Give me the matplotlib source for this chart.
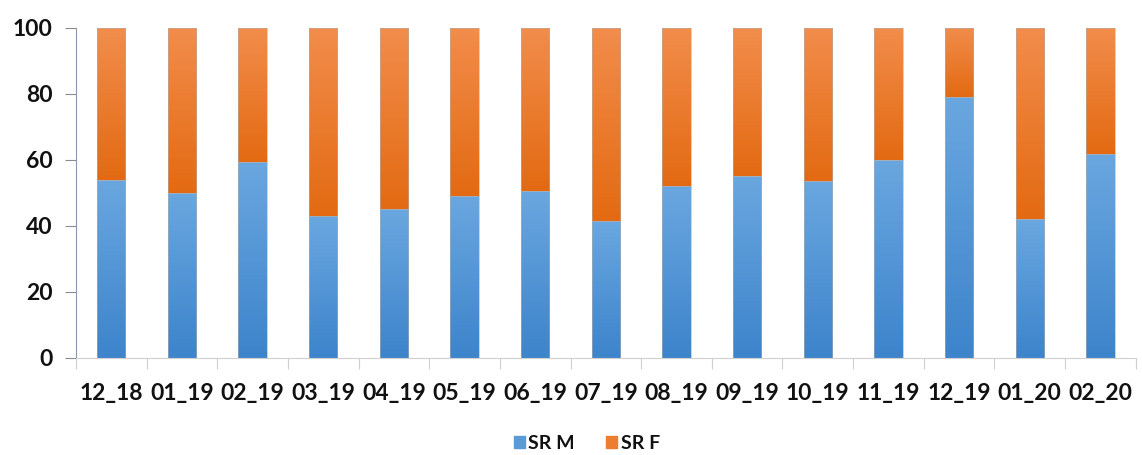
import numpy as np
import matplotlib.pyplot as plt
from matplotlib.colors import LinearSegmentedColormap
from matplotlib.patches import Patch

months = ['12_18', '01_19', '02_19', '03_19', '04_19', '05_19', '06_19', '07_19',
          '08_19', '09_19', '10_19', '11_19', '12_19', '01_20', '02_20']
sr_m = [54, 50, 59.5, 43, 45, 49, 50.5, 41.5, 52, 55.2, 53.6, 60, 79, 42, 61.8]
sr_f = [100 - v for v in sr_m]

plt.rcParams['font.family'] = ['Lato', 'DejaVu Sans']
plt.rcParams['font.weight'] = 'bold'

fig = plt.figure(figsize=(11.42, 4.55), dpi=100)
ax = fig.add_axes([0.0665, 0.2132, 0.928, 0.7253])

x = np.arange(len(months))
bars_m = ax.bar(x, sr_m, width=0.4, color='#5b9bd5', label='SR M')
bars_f = ax.bar(x, sr_f, width=0.4, bottom=sr_m, color='#ed7d31', label='SR F')

# excel-style vertical gradient on each segment (light at top, darker at bottom)
blue_cm = LinearSegmentedColormap.from_list('b', ['#3d84cb', '#6aa7e0'])
orange_cm = LinearSegmentedColormap.from_list('o', ['#e36a12', '#f28d4c'])
grad = np.linspace(0, 1, 256).reshape(-1, 1)
for bars, cm in [(bars_m, blue_cm), (bars_f, orange_cm)]:
    for b in bars:
        x0, y0 = b.get_x(), b.get_y()
        w, h = b.get_width(), b.get_height()
        ax.imshow(grad, cmap=cm, origin='lower', aspect='auto',
                  extent=[x0, x0 + w, y0, y0 + h], zorder=2)
        b.set_facecolor('none')
        b.set_edgecolor('#b0b0b0')
        b.set_linewidth(0.4)
        b.set_zorder(3)

ax.set_xlim(-0.5, len(months) - 0.5)
ax.set_ylim(0, 100)
ax.set_yticks(range(0, 101, 20))

ax.set_xticks(x)
ax.set_xticklabels(months)
ax.set_xticks(np.arange(len(months) + 1) - 0.5, minor=True)
ax.tick_params(axis='x', which='major', length=0, pad=18, labelsize=16.5, labelcolor='#111111')
ax.tick_params(axis='x', which='minor', length=8, color='#d0d0d0', width=0.8)
ax.tick_params(axis='y', length=8, pad=9, labelsize=16.5, color='#8c8c8c', labelcolor='#111111')

for s in ['top', 'right']:
    ax.spines[s].set_visible(False)
ax.spines['left'].set_color('#8a9aab')
ax.spines['bottom'].set_color('#d0d0d0')

handles = [Patch(color='#5b9bd5', label='SR M'), Patch(color='#ed7d31', label='SR F')]
fig.legend(handles=handles, loc='center', bbox_to_anchor=(0.514, 0.025), ncol=2,
           frameon=False, fontsize=14, handlelength=0.55, handleheight=0.55,
           handletextpad=0.2, columnspacing=1.6, labelcolor='#111111')

fig.savefig('out.png', dpi=100, facecolor='white')
